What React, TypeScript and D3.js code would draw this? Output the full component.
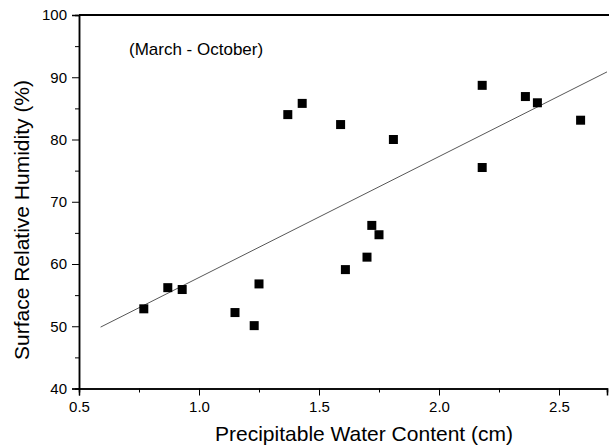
import React, { useEffect, useRef } from "react";
import * as d3 from "d3";

const width = 609;
const height = 446;
const margin = { top: 15, right: 2, bottom: 57.5, left: 79 };

// precipitable water content (cm)
const pwc = [0.77, 0.87, 0.93, 1.15, 1.23, 1.25, 1.37, 1.43, 1.59, 1.61, 1.70, 1.72, 1.75, 1.81, 2.18, 2.18, 2.36, 2.41, 2.59];
// surface relative humidity (%)
const rh = [52.8, 56.2, 55.9, 52.2, 50.1, 56.8, 84.0, 85.8, 82.4, 59.1, 61.1, 66.2, 64.7, 80.0, 88.7, 75.5, 86.9, 85.9, 83.1];

// linear fit drawn on the chart
const fitX = [0.59, 2.75];
const fitSlope = 19.43;
const fitIntercept = 38.4;

const xMajor = [0.5, 1.0, 1.5, 2.0, 2.5];
const xMinor = [0.75, 1.25, 1.75, 2.25];
const yMajor = [40, 50, 60, 70, 80, 90, 100];
const yMinor = [45, 55, 65, 75, 85, 95];

const font = "'Liberation Sans', Arial, Helvetica, sans-serif";

const Chart = () => {
  const ref = useRef<SVGSVGElement>(null);

  useEffect(() => {
    if (!ref.current) return;
    const svg = d3.select(ref.current);
    svg.selectAll("*").remove();

    const x = d3.scaleLinear().domain([0.5, 2.7]).range([margin.left, width - margin.right]);
    const y = d3.scaleLinear().domain([40, 100]).range([height - margin.bottom, margin.top]);

    svg.append("defs").append("clipPath").attr("id", "plot")
      .append("rect")
      .attr("x", margin.left).attr("y", margin.top)
      .attr("width", width - margin.left - margin.right)
      .attr("height", height - margin.top - margin.bottom);

    // fit line
    svg.append("line")
      .attr("clip-path", "url(#plot)")
      .attr("x1", x(fitX[0])).attr("y1", y(fitSlope * fitX[0] + fitIntercept))
      .attr("x2", x(fitX[1])).attr("y2", y(fitSlope * fitX[1] + fitIntercept))
      .attr("stroke", "#444").attr("stroke-width", 0.9);

    // points
    const s = 9;
    svg.append("g").selectAll("rect")
      .data(pwc.map((v, i) => [v, rh[i]]))
      .enter().append("rect")
      .attr("x", (d) => x(d[0]) - s / 2)
      .attr("y", (d) => y(d[1]) - s / 2)
      .attr("width", s).attr("height", s)
      .attr("fill", "#000");

    // top frame line
    svg.append("line")
      .attr("x1", margin.left).attr("x2", width)
      .attr("y1", margin.top).attr("y2", margin.top)
      .attr("stroke", "#000").attr("stroke-width", 2);

    // y axis
    const yAxis = svg.append("g").attr("transform", `translate(${margin.left},0)`);
    yAxis.call(d3.axisLeft(y).tickValues(yMajor).tickSize(7).tickFormat(d3.format("d")));
    yAxis.append("g").call(d3.axisLeft(y).tickValues(yMinor).tickSize(4).tickFormat(() => ""));
    yAxis.selectAll(".domain").attr("stroke-width", 1.5);

    // x axis
    const xAxis = svg.append("g").attr("transform", `translate(0,${height - margin.bottom})`);
    xAxis.call(d3.axisBottom(x).tickValues(xMajor).tickSize(7).tickFormat(d3.format(".1f")));
    xAxis.append("g").call(d3.axisBottom(x).tickValues(xMinor).tickSize(4).tickFormat(() => ""));
    xAxis.selectAll(".domain").attr("stroke-width", 1.5);

    svg.selectAll(".tick line").attr("stroke", "#000");
    svg.selectAll(".tick text")
      .attr("font-family", font).attr("font-size", 15).attr("fill", "#000");
    yAxis.selectAll(".tick text").attr("x", -12);
    xAxis.selectAll(".tick text").attr("y", 13);

    // labels
    svg.append("text")
      .attr("x", 364).attr("y", 441)
      .attr("text-anchor", "middle")
      .attr("font-family", font).attr("font-size", 21)
      .text("Precipitable Water Content (cm)");

    svg.append("text")
      .attr("transform", `translate(29,220) rotate(-90)`)
      .attr("text-anchor", "middle")
      .attr("font-family", font).attr("font-size", 21)
      .text("Surface Relative Humidity (%)");

    svg.append("text")
      .attr("x", 129).attr("y", 55)
      .attr("font-family", font).attr("font-size", 17)
      .text("(March - October)");
  }, []);

  return (
    <svg ref={ref} width={width} height={height}
      style={{ position: "absolute", left: 0, top: 0, background: "#fff" }} />
  );
};

export default function App() {
  return <Chart />;
}
